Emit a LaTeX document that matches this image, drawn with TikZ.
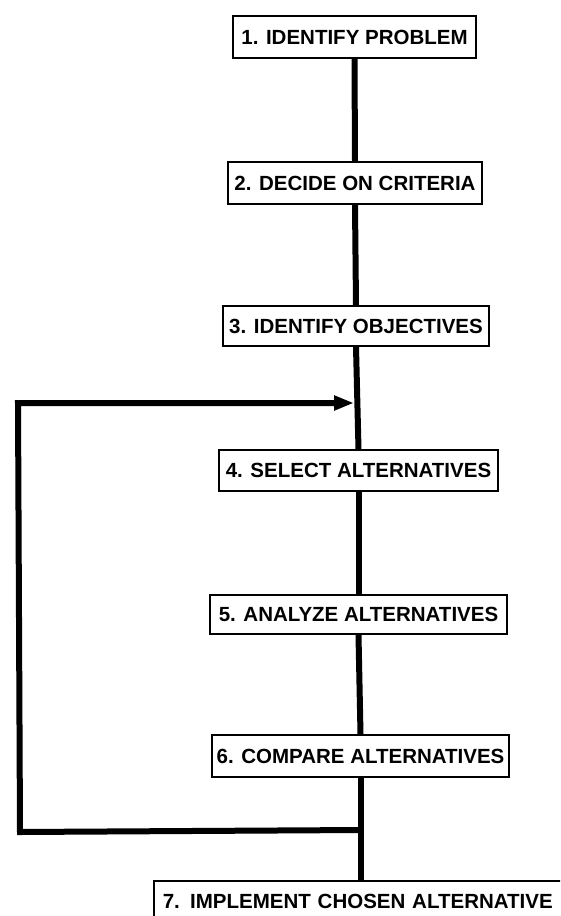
\documentclass[tikz,border=0pt]{standalone}
\usepackage{fontspec}
\setmainfont{Liberation Sans}
\usetikzlibrary{arrows.meta}
\begin{document}
\begin{tikzpicture}[x=1pt,y=-1pt,
  stepbox/.style={draw=black, line width=1.6pt, fill=white, inner sep=0pt,
    font=\fontsize{20.5}{22}\selectfont\bfseries, minimum height=42pt},
  mainline/.style={line width=6pt, line cap=butt},
  loopline/.style={line width=6pt, line join=miter}]
\useasboundingbox (0,0) rectangle (560,916);
\clip (0,0) rectangle (560,916);
\fill[white] (0,0) rectangle (560,916);
% boxes
\node[stepbox, minimum width=243pt] (b1) at (354.5,37) {1. IDENTIFY PROBLEM};
\node[stepbox, minimum width=254pt] (b2) at (355,183) {2. DECIDE ON CRITERIA};
\node[stepbox, minimum width=266pt, minimum height=40pt] (b3) at (356,326) {3. IDENTIFY OBJECTIVES};
\node[stepbox, minimum width=279pt, minimum height=41pt] (b4) at (358.5,470.5) {4. SELECT ALTERNATIVES};
\node[stepbox, minimum width=297pt, minimum height=39pt] (b5) at (358.5,614.5) {5. ANALYZE ALTERNATIVES};
\node[stepbox, minimum width=297pt] (b6) at (360.5,756) {6. COMPARE ALTERNATIVES};
\node[stepbox, anchor=north west, text width=402pt, align=left, inner xsep=9pt] (b7) at (153,880) {7. IMPLEMENT CHOSEN ALTERNATIVE};
% junction coordinates
\coordinate (jtop) at (354,403);
\coordinate (jbot) at (361,830);
\coordinate (c1) at (20,832);
\coordinate (c2) at (18,403);
% main spine
\draw[mainline] (b1.south) -- (b2.north);
\draw[mainline] (b2.south) -- (b3.north);
\draw[mainline] (b3.south) -- (b4.north);
\draw[mainline] (b4.south) -- (b5.north);
\draw[mainline] (b5.south) -- (b6.north);
\draw[mainline] (b6.south) -- (b6.south |- b7.north);
% feedback loop
\draw[loopline, -{Triangle[length=20pt,width=14pt]}] (jbot) -- (c1) -- (c2) -- (jtop);
\end{tikzpicture}
\end{document}
